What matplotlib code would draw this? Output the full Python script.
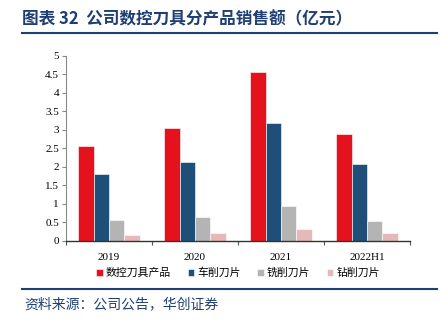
import matplotlib
matplotlib.use('Agg')
import matplotlib.pyplot as plt
import numpy as np

#-----------------------------------------------------------------
# Data (亿元)
#-----------------------------------------------------------------
years    = ['2019', '2020', '2021', '2022H1']
series   = ['数控刀具产品', '车削刀片', '铣削刀片', '钻削刀片']
total    = [2.56, 3.04, 4.55, 2.88]
turning  = [1.82, 2.12, 3.18, 2.07]
milling  = [0.56, 0.65, 0.95, 0.54]
drilling = [0.16, 0.21, 0.32, 0.21]
yticks   = [0, 0.5, 1, 1.5, 2, 2.5, 3, 3.5, 4, 4.5, 5]

colors = ['#E5121D', '#1F4E79', '#B4B4B4', '#E6B9B8']
navy = '#1F3F73'

cjk = ['Noto Sans CJK SC', 'DejaVu Sans']
plt.rcParams['font.family'] = cjk

fig = plt.figure(figsize=(4.46, 3.21), dpi=100)
ax = fig.add_axes([66/446, 1 - 241/321, 344/446, (241 - 55.7)/321])

x = np.arange(len(years))
w = 0.18
for i, vals in enumerate([total, turning, milling, drilling]):
    ax.bar(x + (i - 1.5) * w, vals, w, color=colors[i], label=series[i],
           edgecolor='white', linewidth=0.4)

ax.set_xlim(-0.5, len(years) - 0.5)
ax.set_ylim(0, 5)
ax.set_yticks(yticks)
ax.set_yticklabels([f'{v:g}' for v in yticks], family='Liberation Serif',
                   fontsize=8)
ax.set_xticks(np.arange(len(years) + 1) - 0.5)
ax.set_xticklabels([])
ax.tick_params(axis='x', length=3, color='#555555', width=0.8)
ax.tick_params(axis='y', length=3, color='#888888', width=0.8, pad=2)
for xi, yr in zip(x, years):
    ax.text(xi, -0.33, yr, ha='center', va='top', fontsize=8,
            family='Liberation Serif', transform=ax.transData)

for s in ['top', 'right']:
    ax.spines[s].set_visible(False)
ax.spines['left'].set_color('#888888')
ax.spines['bottom'].set_color('#333333')
ax.spines['bottom'].set_linewidth(1.0)

ax.legend(loc='upper center', bbox_to_anchor=(0.5, -0.09), ncol=4,
          frameon=False, fontsize=7.8, handlelength=0.6, handleheight=0.6,
          handletextpad=0.3, columnspacing=1.5)

# title and footer
fig.text(22/446, 1 - 19/321, '图表 32  公司数控刀具分产品销售额（亿元）',
         fontsize=12, fontweight='bold', color=navy, va='center')
fig.add_artist(plt.Line2D([22/446, 437/446], [1 - 33/321, 1 - 33/321],
                          color=navy, linewidth=1.5))
fig.add_artist(plt.Line2D([22/446, 437/446], [1 - 289/321, 1 - 289/321],
                          color=navy, linewidth=1.5))
fig.text(24/446, 1 - 304/321, '资料来源：公司公告，华创证券',
         fontsize=10, color=navy, va='center', style='italic')

plt.savefig('out.png', dpi=100)
